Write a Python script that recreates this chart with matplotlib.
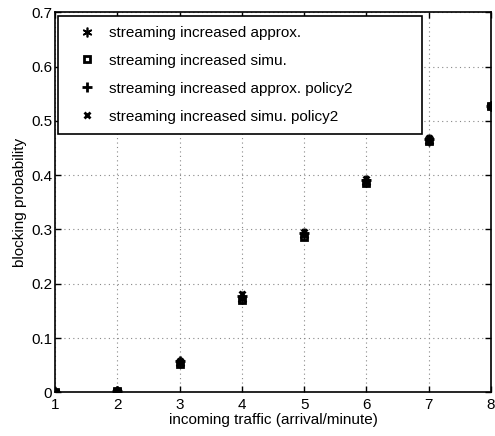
import matplotlib
matplotlib.use("Agg")
import matplotlib.pyplot as plt

plt.rcParams['font.family'] = ['Liberation Sans', 'DejaVu Sans']

traffic = [1, 2, 3, 4, 5, 6, 7, 8]
approx = [0.0, 0.002, 0.055, 0.172, 0.289, 0.387, 0.463, 0.527]
simu = [0.0, 0.002, 0.053, 0.170, 0.287, 0.386, 0.462, 0.527]
approx_p2 = [0.0, 0.003, 0.057, 0.178, 0.293, 0.391, 0.467, 0.528]
simu_p2 = [0.0, 0.003, 0.058, 0.181, 0.296, 0.393, 0.469, 0.528]

labels = ["streaming increased approx.",
          "streaming increased simu.",
          "streaming increased approx. policy2",
          "streaming increased simu. policy2"]

fig = plt.figure(figsize=(4.95, 4.36), dpi=100)
ax = fig.add_axes([0.111, 0.100, 0.881, 0.872])

ax.plot(traffic, approx, linestyle='none', marker=(6, 2, 0), markersize=7,
        color='black', markeredgewidth=1.2, label=labels[0])
ax.plot(traffic, simu, linestyle='none', marker='s', markersize=5,
        markerfacecolor='none', markeredgecolor='black', markeredgewidth=2,
        label=labels[1])
ax.plot(traffic, approx_p2, linestyle='none', marker='+', markersize=7,
        color='black', markeredgewidth=2, label=labels[2])
ax.plot(traffic, simu_p2, linestyle='none', marker='x', markersize=5,
        color='black', markeredgewidth=2, label=labels[3])

ax.set_xlim(1, 8)
ax.set_ylim(0, 0.7)
ax.set_xticks(traffic)
ax.set_yticks([0, 0.1, 0.2, 0.3, 0.4, 0.5, 0.6, 0.7])
ax.set_yticklabels(['0', '0.1', '0.2', '0.3', '0.4', '0.5', '0.6', '0.7'])
ax.tick_params(direction='in', top=True, right=True, labelsize=11,
               length=4, width=1)
ax.tick_params(axis='x', pad=4)
ax.tick_params(axis='y', pad=2)
ax.grid(True, linestyle=(0, (1, 3)), color='#888888', linewidth=0.8)
for s in ax.spines.values():
    s.set_linewidth(1.2)

ax.set_xlabel('incoming traffic (arrival/minute)', fontsize=11, labelpad=1)
ax.set_ylabel('blocking probability', fontsize=11, labelpad=3)

leg = ax.legend(loc='upper left', bbox_to_anchor=(0.007, 0.99, 0.835, 0.0),
                mode='expand', borderaxespad=0, fontsize=11, frameon=True,
                fancybox=False, edgecolor='black', framealpha=1,
                labelspacing=0.91, borderpad=0.65, handlelength=2.5,
                handletextpad=0.2, numpoints=1)
leg.get_frame().set_linewidth(1.2)

fig.savefig('out.png', dpi=100)
